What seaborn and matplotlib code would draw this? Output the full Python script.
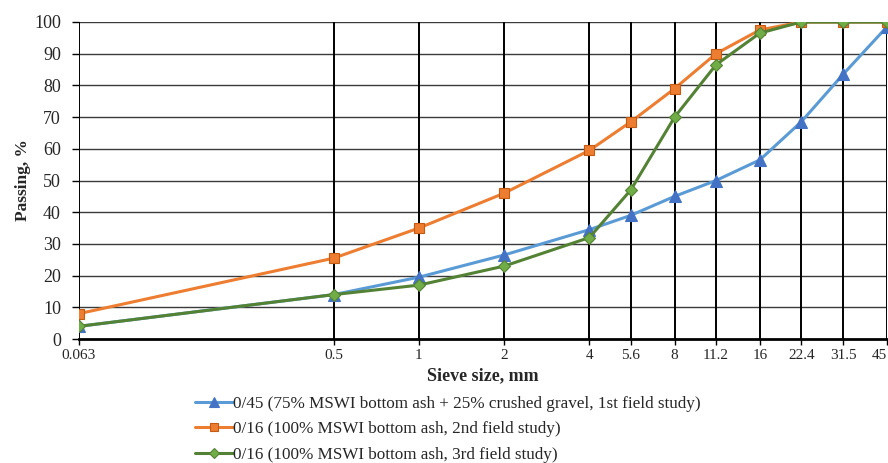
import matplotlib
matplotlib.use("Agg")
import matplotlib.pyplot as plt
import seaborn as sns
import pandas as pd
from matplotlib.lines import Line2D

sieve = [0.063, 0.5, 1, 2, 4, 5.6, 8, 11.2, 16, 22.4, 31.5, 45]
sieve_labels = ["0.063", "0.5", "1", "2", "4", "5.6", "8", "11.2", "16", "22.4", "31.5", "45"]
s1 = [4, 14, 19.5, 26.5, 34.5, 39, 45, 50, 56.5, 68.5, 83.5, 98.5]
s2 = [8, 25.5, 35, 46, 59.5, 68.5, 79, 90, 97.5, 100, 100, 100]
s3 = [4, 14, 17, 23, 32, 47, 70, 86.5, 96.5, 100, 100, 100]
names = [
    "0/45 (75% MSWI bottom ash + 25% crushed gravel, 1st field study)",
    "0/16 (100% MSWI bottom ash, 2nd field study)",
    "0/16 (100% MSWI bottom ash, 3rd field study)",
]

sns.set_style("white")
plt.rcParams['font.family'] = ['Liberation Serif', 'DejaVu Serif']

fig = plt.figure(figsize=(8.88, 4.63), dpi=100)
ax = fig.add_axes([79/888, 1 - 339/463, (887 - 79)/888, (339 - 22)/463])

styles = [
    dict(color="#5B9BD5", marker="^", mfc="#4472C4", mec="#4472C4", ms=8.5),
    dict(color="#ED7D31", marker="s", mfc="#ED7D31", mec="#C55A11", ms=7.5),
    dict(color="#548235", marker="D", mfc="#70AD47", mec="#548235", ms=6.5),
]
series = [s1, s2, s3]

# grid
for yv in range(10, 101, 10):
    ax.axhline(yv, color="#3a3a3a", lw=1.0, zorder=1)
for xv in sieve:
    ax.axvline(xv, color="black", lw=1.4, zorder=1)

handles = []
for vals, name, st in zip(series, names, styles):
    df = pd.DataFrame({"x": sieve, "y": vals})
    sns.lineplot(data=df, x="x", y="y", ax=ax, color=st["color"], lw=2.2,
                 marker=st["marker"], markersize=st["ms"], markerfacecolor=st["mfc"],
                 markeredgecolor=st["mec"], markeredgewidth=0.8, zorder=3,
                 estimator=None, sort=False)
    handles.append(Line2D([], [], color=st["color"], lw=2.2, marker=st["marker"],
                          markersize=st["ms"] - 1.5, markerfacecolor=st["mfc"],
                          markeredgecolor=st["mec"], markeredgewidth=0.8))

ax.set_xscale("log")
ax.set_xlim(0.063, 45)
ax.set_ylim(0, 100)
ax.set_xticks(sieve)
ax.set_xticklabels(sieve_labels, fontsize=11)
ax.get_xticklabels()[-1].set_horizontalalignment("right")
ax.minorticks_off()
ax.set_yticks(range(0, 101, 10))
ax.tick_params(axis="y", labelsize=13, length=5, width=1, color="black", pad=8,
               direction="out", left=True)
ax.tick_params(axis="x", length=4, width=1, color="black", pad=3, direction="out",
               bottom=True)
for s in ["top", "right", "left"]:
    ax.spines[s].set_visible(False)
ax.spines["bottom"].set_color("black")
ax.spines["bottom"].set_linewidth(2)
ax.set_xlabel("Sieve size, mm", fontsize=13, fontweight="bold", labelpad=4)
ax.set_ylabel("Passing, %", fontsize=12.5, fontweight="bold", labelpad=2)

fig.legend(handles, names, loc="upper left", bbox_to_anchor=(195/888, 1 - 396/463),
           frameon=False, fontsize=12.3, handlelength=2.2, handletextpad=0.05,
           labelspacing=0.55, borderaxespad=0, borderpad=0)

fig.savefig("out.png", dpi=100)
